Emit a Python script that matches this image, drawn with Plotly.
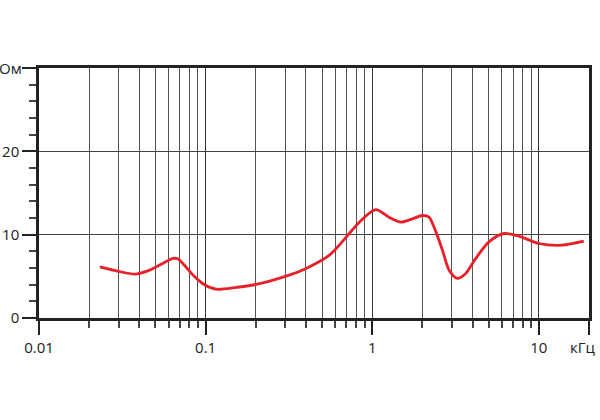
import plotly.graph_objects as go
import numpy as np

# Impedance curve (kHz, Ohm)
freq_khz = [0.0232, 0.0300, 0.0376, 0.0450, 0.0507, 0.0637, 0.068, 0.076, 0.084, 0.095,
            0.106, 0.1186, 0.153, 0.201, 0.304, 0.401, 0.553, 0.728, 0.836, 1.05,
            1.26, 1.49, 1.74, 2.0, 2.19, 2.35, 2.64, 2.89, 3.24, 3.64,
            4.18, 5.02, 6.17, 7.59, 10.0, 13.8, 18.6]
impedance_ohm = [6.14, 5.6, 5.27, 5.66, 6.14, 7.15, 7.1, 6.15, 5.15, 4.2,
                 3.67, 3.43, 3.67, 4.03, 5.03, 5.95, 7.54, 10.14, 11.5, 13.0,
                 12.1, 11.5, 11.9, 12.3, 12.1, 10.9, 8.14, 5.75, 4.75, 5.35,
                 7.15, 9.14, 10.14, 9.82, 8.94, 8.74, 9.22]

x_major_vals = [0.01, 0.1, 1, 10, 20]
x_major_text = ["0.01", "0.1", "1", "10", ""]
x_minor_vals = [m * d for d in [0.01, 0.1, 1, 10] for m in range(2, 10) if m * d < 20]
y_major_vals = [0, 10, 20, 30]
y_major_text = ["0", "10", "20", ""]
y_minor_vals = [v for v in range(0, 31, 2) if v % 10 != 0]

font_family = "Open Sans, Liberation Sans, Arial, sans-serif"

fig = go.Figure()
fig.add_trace(go.Scatter(
    x=freq_khz, y=impedance_ohm, mode="lines",
    line=dict(color="#e8202a", width=2.8, shape="spline", smoothing=0.8),
    hoverinfo="skip", showlegend=False))

fig.update_layout(
    width=600, height=420,
    margin=dict(l=39, r=11, t=68, b=102),
    paper_bgcolor="white", plot_bgcolor="white",
    font=dict(family=font_family, size=15, color="#222"),
    xaxis=dict(
        type="log", range=[-2, np.log10(20)], automargin=False,
        tickmode="array", tickvals=x_major_vals, ticktext=x_major_text,
        ticks="outside", ticklen=14, tickwidth=1.5, tickcolor="#222",
        showgrid=True, gridcolor="#333", gridwidth=1.2,
        showline=True, linecolor="#222", linewidth=2.5, mirror=True,
        zeroline=False,
        minor=dict(tickmode="array", tickvals=x_minor_vals, ticks="outside",
                   ticklen=7, tickwidth=1.5, tickcolor="#444",
                   showgrid=True, gridcolor="#555", gridwidth=1.2),
    ),
    yaxis=dict(
        range=[0, 30], automargin=False,
        tickmode="array", tickvals=y_major_vals, ticktext=y_major_text,
        ticks="outside", ticklen=14, tickwidth=1.5, tickcolor="#222",
        showgrid=True, gridcolor="#444", gridwidth=1.2,
        showline=True, linecolor="#222", linewidth=2.5, mirror=True,
        zeroline=False,
        minor=dict(tickmode="array", tickvals=y_minor_vals, ticks="outside",
                   ticklen=7, tickwidth=1.5, tickcolor="#444", showgrid=False),
    ),
    annotations=[
        dict(text="Ом", xref="paper", yref="y", x=0, y=30, xshift=-15,
             showarrow=False, xanchor="right", yanchor="middle",
             font=dict(family=font_family, size=15, color="#222")),
        dict(text="кГц", xref="paper", yref="paper", x=1, y=0, xshift=9, yshift=-29,
             showarrow=False, xanchor="right", yanchor="middle",
             font=dict(family=font_family, size=15, color="#222")),
    ],
)

fig.write_html("out.html", config={"displayModeBar": False},
               post_script="document.body.style.margin='0';")
